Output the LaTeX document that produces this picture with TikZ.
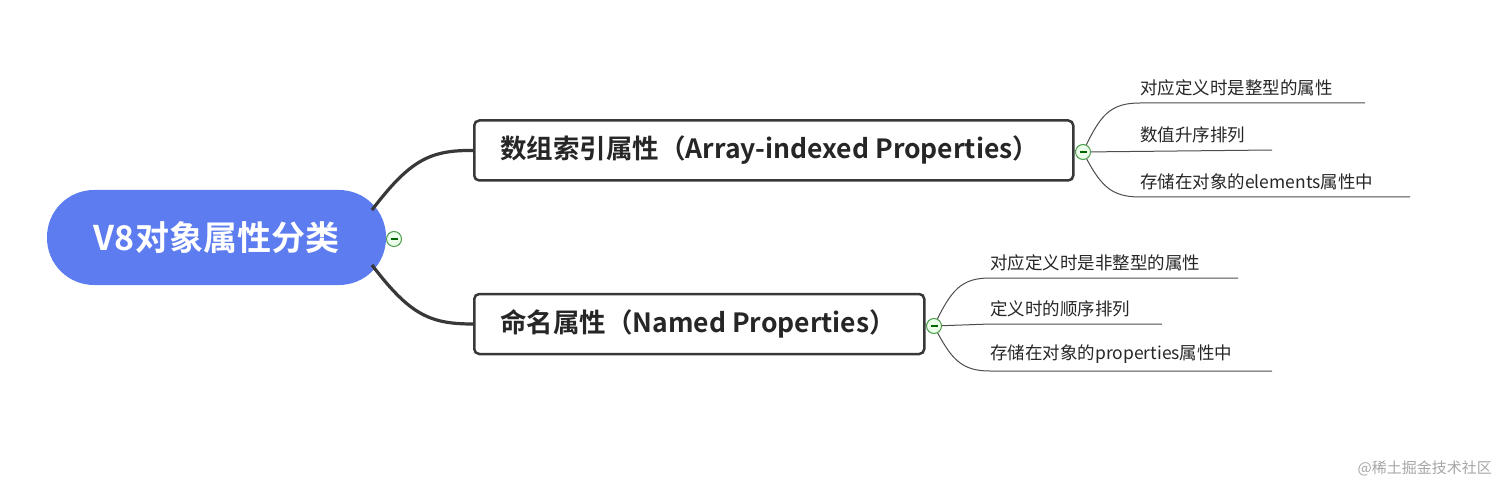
\documentclass[tikz,border=0pt]{standalone}
\usepackage{fontspec}
\setmainfont{Noto Sans CJK SC}
\newfontfamily\cjkb{Noto Sans CJK SC Bold}
\begin{document}
\begin{tikzpicture}[x=1pt,y=-1pt,
  conn/.style={draw=black!78,line width=3.2pt},
  sub/.style={draw=black!70,line width=1pt},
  topic/.style={draw=black!78,line width=2.5pt,rounded corners=5pt,minimum height=60pt,anchor=west,inner sep=0pt},
  topictext/.style={anchor=west,inner sep=0pt,font=\cjkb\fontsize{26.5}{30}\selectfont,text=black!85},
  leaf/.style={anchor=south west,inner sep=0pt,font=\fontsize{17.5}{20}\selectfont,text=black!85},
  fold/.style={circle,draw=green!45!black!70,fill=green!8,line width=1pt,minimum size=15pt,inner sep=0pt,path picture={\draw[green!40!black,line width=1.4pt](path picture bounding box.west)++(4pt,0)--++(7pt,0);}}]
\useasboundingbox (0,0) rectangle (1512,497);
\node[fill={rgb,255:red,92;green,124;blue,240},rounded corners=47pt,minimum width=339pt,minimum height=95pt,inner sep=0pt,text=white,font=\cjkb\fontsize{34}{38}\selectfont] (root) at (216.5,237.5) {V8对象属性分类};
\node[topic,minimum width=599pt] (b1) at (473,150.5) {};
\node[topictext] (b1t) at (500,150.5) {数组索引属性（Array-indexed Properties）};
\node[topic,minimum width=450pt] (b2) at (473,324) {};
\node[topictext] (b2t) at (500,324) {命名属性（Named Properties）};
\draw[conn] (372,210) .. controls (410,160) and (430,150) .. (b1.west);
\draw[conn] (372,265) .. controls (410,315) and (430,324) .. (b2.west);
% leaves of b1
\coordinate (c1) at (1083,152);
\coordinate (l1) at (1140,103);\coordinate (e1) at (1365,103);
\coordinate (l2) at (1140,150);\coordinate (e2) at (1272,150);
\coordinate (l3) at (1140,197);\coordinate (e3) at (1410,197);
\draw[sub] (c1) .. controls (1100,115) and (1110,103) .. (l1) -- (e1);
\draw[sub] (c1) -- (e2);
\draw[sub] (c1) .. controls (1100,185) and (1110,197) .. (l3) -- (e3);
\draw[sub] (b1.east) -- (c1);
\node[leaf] (t1) at ([yshift=7pt]l1) {对应定义时是整型的属性};
\node[leaf] (t2) at ([yshift=7pt]l2) {数值升序排列};
\node[leaf] (t3) at ([yshift=7pt]l3) {存储在对象的elements属性中};
% leaves of b2
\coordinate (c2) at (934,326);
\coordinate (m1) at (990,278);\coordinate (f1) at (1238,278);
\coordinate (m2) at (990,324);\coordinate (f2) at (1162,324);
\coordinate (m3) at (990,371);\coordinate (f3) at (1272,371);
\draw[sub] (c2) .. controls (951,290) and (961,278) .. (m1) -- (f1);
\draw[sub] (c2) -- (m2) -- (f2);
\draw[sub] (c2) .. controls (951,359) and (961,371) .. (m3) -- (f3);
\draw[sub] (b2.east) -- (c2);
\node[leaf] (s1) at ([yshift=7pt]m1) {对应定义时是非整型的属性};
\node[leaf] (s2) at ([yshift=7pt]m2) {定义时的顺序排列};
\node[leaf] (s3) at ([yshift=7pt]m3) {存储在对象的properties属性中};
\node[fold] (k0) at (394,239) {};
\node[fold] (k1) at (c1) {};
\node[fold] (k2) at (c2) {};
\node[anchor=east,text=black!35,font=\fontsize{15}{18}\selectfont,inner sep=0pt] (wm) at (1492,468) {@稀土掘金技术社区};
\end{tikzpicture}
\end{document}
